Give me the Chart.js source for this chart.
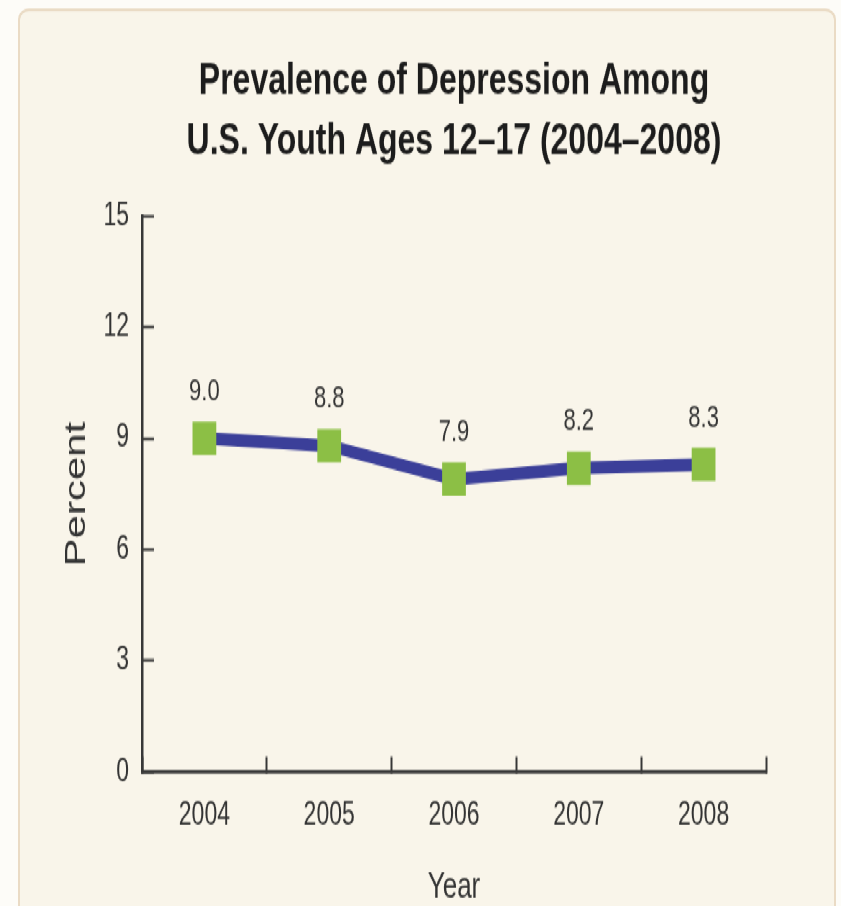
<!DOCTYPE html>
<html>
<head>
<meta charset="utf-8">
<script src="https://cdn.jsdelivr.net/npm/chart.js@4.4.1/dist/chart.umd.min.js"></script>
<style>
  html, body { margin: 0; padding: 0; background: #fdfcf8; overflow: hidden; width: 841px; height: 906px; }
  #stage { position: absolute; left: 0; top: 0; width: 841px; height: 647px; transform: scaleY(1.4003); transform-origin: 0 0; }
  #card { position: absolute; left: 18px; top: 5.7px; width: 818px; height: 700px; box-sizing: border-box;
          border: 2px solid #eadbc5; border-radius: 11px / 8px; background: #f9f5ea; }
  #chart { position: absolute; left: 0; top: 0; }
</style>
</head>
<body>
<div id="stage">
  <div id="card"></div>
  <canvas id="chart" width="841" height="647"></canvas>
</div>
<script>
// ---- data ----
const titleLines = ['Prevalence of Depression Among', 'U.S. Youth Ages 12\u201317 (2004\u20132008)'];
const years = ['2004', '2005', '2006', '2007', '2008'];
const prevalence = [9.0, 8.8, 7.9, 8.2, 8.3];
const yTickValues = [0, 3, 6, 9, 12, 15];
const xTitle = 'Year';
const yTitle = 'Percent';

const FONT = '"Liberation Sans", Arial, Helvetica, sans-serif';
const AXIS = '#383838';
const TEXT = '#333333';

const valueLabels = {
  id: 'valueLabels',
  afterDatasetsDraw(chart) {
    const ctx = chart.ctx;
    const meta = chart.getDatasetMeta(0);
    ctx.save();
    ctx.font = '22px ' + FONT;
    ctx.fillStyle = TEXT;
    ctx.textAlign = 'center';
    ctx.textBaseline = 'alphabetic';
    meta.data.forEach((pt, i) => {
      ctx.fillText(prevalence[i].toFixed(1), pt.x, pt.y - 27);
    });
    ctx.restore();
  }
};

new Chart(document.getElementById('chart'), {
  type: 'line',
  data: {
    labels: years,
    datasets: [{
      label: yTitle,
      data: prevalence,
      borderColor: '#3b3f99',
      borderWidth: 9,
      tension: 0,
      pointStyle: 'rect',
      pointRadius: 16.8,
      pointHoverRadius: 16.8,
      pointBackgroundColor: '#8cbf45',
      pointBorderColor: '#8cbf45',
      pointBorderWidth: 0
    }]
  },
  options: {
    responsive: false,
    animation: false,
    devicePixelRatio: 1,
    layout: { padding: { left: 30, right: 75, top: 0, bottom: 0 } },
    plugins: {
      legend: { display: false },
      tooltip: { enabled: false },
      title: {
        display: true,
        text: titleLines,
        fullSize: false,
        color: '#1c1c1c',
        font: { family: FONT, size: 32, weight: 'bold', lineHeight: 1.34 },
        padding: { top: 37, bottom: 31.5 }
      }
    },
    scales: {
      x: {
        type: 'category',
        offset: true,
        afterFit(scale) { scale.height = 95.6; },
        border: { display: true, color: AXIS, width: 2.5 },
        grid: { display: true, offset: true, drawOnChartArea: false, drawTicks: true,
                tickLength: -11, tickColor: AXIS, tickWidth: 2 },
        ticks: { color: TEXT, padding: 28.6, font: { family: FONT, size: 23 } },
        title: { display: true, text: xTitle, color: TEXT,
                 font: { family: FONT, size: 26, lineHeight: 1 }, padding: { top: 0, bottom: 0 } }
      },
      y: {
        min: 0,
        max: 15,
        afterBuildTicks(scale) { scale.ticks = yTickValues.map(v => ({ value: v })); },
        afterFit(scale) { scale.width = 112; },
        border: { display: true, color: AXIS, width: 2.5 },
        grid: { display: true, drawOnChartArea: false, drawTicks: true,
                tickLength: -12, tickColor: AXIS, tickWidth: 2 },
        ticks: { color: TEXT, padding: 25, font: { family: FONT, size: 23 } },
        title: { display: true, text: yTitle, color: TEXT,
                 font: { family: FONT, size: 30, lineHeight: 1 }, padding: { top: 32.2, bottom: 0 } }
      }
    }
  },
  plugins: [valueLabels]
});
</script>
</body>
</html>
